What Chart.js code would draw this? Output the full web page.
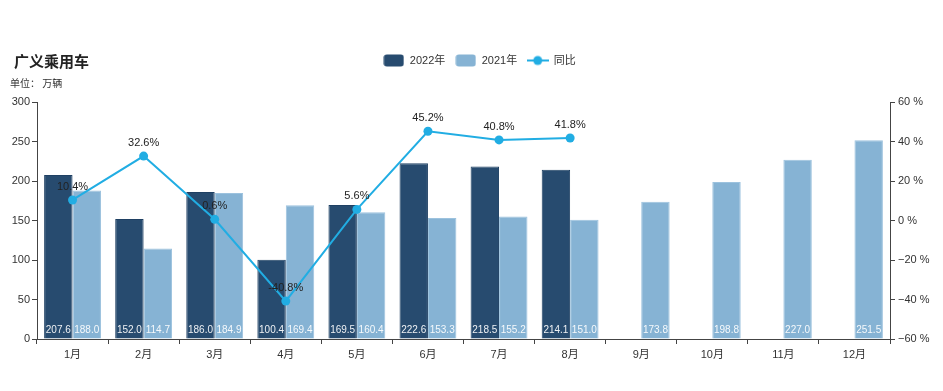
<!DOCTYPE html>
<html>
<head>
<meta charset="utf-8">
<script src="https://cdn.jsdelivr.net/npm/chart.js@4/dist/chart.umd.min.js"></script>
<style>
  html,body{margin:0;padding:0;background:#fff;}
  #wrap{position:relative;width:943px;height:391px;font-family:"Liberation Sans","Noto Sans CJK SC",sans-serif;}
  #title{position:absolute;left:14px;top:50px;font-size:15px;font-weight:bold;color:#222;font-family:"Noto Sans CJK SC","Liberation Sans",sans-serif;}
  #unit{position:absolute;left:10px;top:75px;font-size:10px;color:#333;font-family:"Noto Sans CJK SC","Liberation Sans",sans-serif;}
  canvas{position:absolute;left:0;top:0;}
</style>
</head>
<body>
<div id="wrap">
  <canvas id="c" width="943" height="391"></canvas>
  <div id="title">广义乘用车</div>
  <div id="unit">单位：&nbsp;万辆</div>
</div>
<script>
const categories = ["1月","2月","3月","4月","5月","6月","7月","8月","9月","10月","11月","12月"];
const sales2022 = [207.6,152.0,186.0,100.4,169.5,222.6,218.5,214.1,null,null,null,null];
const sales2021 = [188.0,114.7,184.9,169.4,160.4,153.3,155.2,151.0,173.8,198.8,227.0,251.5];
const yoy = [10.4,32.6,0.6,-40.8,5.6,45.2,40.8,41.8,null,null,null,null];
const leftTicks = [0,50,100,150,200,250,300];
const rightTicks = [-60,-40,-20,0,20,40,60];

const C_DARK = "#274B6F", C_LIGHT = "#86B3D4", C_LINE = "#21ADE3";
const FONT = '"Liberation Sans","Noto Sans CJK SC",sans-serif';

function boxIcon(color){
  const cv = document.createElement('canvas'); cv.width = 21; cv.height = 13;
  const x = cv.getContext('2d'); x.fillStyle = color;
  x.beginPath(); x.roundRect(0.5,0.5,20,12,3); x.fill();
  return cv;
}
function lineIcon(color){
  const cv = document.createElement('canvas'); cv.width = 22; cv.height = 12;
  const x = cv.getContext('2d'); x.strokeStyle = color; x.fillStyle = color; x.lineWidth = 2;
  x.beginPath(); x.moveTo(0,6); x.lineTo(22,6); x.stroke();
  x.beginPath(); x.arc(11,6,4.5,0,Math.PI*2); x.fill();
  return cv;
}
const icons = [boxIcon(C_DARK), boxIcon(C_LIGHT), lineIcon(C_LINE)];

const legendSpace = {
  id:'legendSpace',
  beforeInit(chart){
    const lg = chart.legend;
    const origFit = lg.fit;
    lg.fit = function(){ origFit.bind(lg)(); this.height += 26; };
    const origDraw = lg.draw;
    lg.draw = function(){
      const ctx = chart.ctx; ctx.save(); ctx.translate(8,0);
      origDraw.bind(lg)(); ctx.restore();
    };
  }
};

const valueLabels = {
  id:'valueLabels',
  afterDatasetsDraw(chart){
    const ctx = chart.ctx, area = chart.chartArea;
    ctx.save();
    ctx.textAlign = 'center'; ctx.textBaseline = 'middle';
    [0,1].forEach(di=>{
      const meta = chart.getDatasetMeta(di);
      if (meta.hidden) return;
      const data = chart.data.datasets[di].data;
      ctx.font = '10px ' + FONT; ctx.fillStyle = 'rgba(255,255,255,0.92)';
      meta.data.forEach((el,i)=>{
        if (data[i] === null) return;
        ctx.fillText(data[i].toFixed(1), el.x, area.bottom - 9);
      });
    });
    const lm = chart.getDatasetMeta(2);
    if (!lm.hidden){
      const data = chart.data.datasets[2].data;
      ctx.font = '11px ' + FONT; ctx.fillStyle = '#222';
      lm.data.forEach((el,i)=>{
        if (data[i] === null) return;
        ctx.fillText(data[i].toFixed(1) + '%', el.x, el.y - 13);
      });
    }
    ctx.restore();
  }
};

new Chart(document.getElementById('c'), {
  type:'bar',
  data:{
    labels: categories,
    datasets:[
      {label:'2022年', data:sales2022, backgroundColor:C_DARK, borderColor:'#1f4063', borderWidth:1, yAxisID:'y', order:1, barPercentage:1, categoryPercentage:0.8},
      {label:'2021年', data:sales2021, backgroundColor:C_LIGHT, borderColor:'#9cc2de', borderWidth:1, yAxisID:'y', order:1, barPercentage:1, categoryPercentage:0.8},
      {label:'同比', type:'line', data:yoy, borderColor:C_LINE, backgroundColor:C_LINE, borderWidth:2, pointRadius:4.5, pointHoverRadius:5, pointBackgroundColor:C_LINE, pointBorderWidth:0, yAxisID:'y1', order:0, tension:0, spanGaps:false}
    ]
  },
  options:{
    responsive:false,
    animation:false,
    layout:{padding:{top:45,left:0,right:0,bottom:0}},
    plugins:{
      tooltip:{enabled:true},
      legend:{
        position:'top',
        labels:{
          usePointStyle:true, pointStyleWidth:21, padding:10,
          color:'#333', font:{size:11, family:FONT},
          generateLabels(chart){
            return [0,1,2].map(i=>({
              text: chart.data.datasets[i].label,
              datasetIndex:i,
              hidden: !chart.isDatasetVisible(i),
              pointStyle: icons[i],
              fillStyle: chart.data.datasets[i].backgroundColor,
              strokeStyle: chart.data.datasets[i].backgroundColor,
              lineWidth:0,
              fontColor:'#333'
            }));
          }
        }
      }
    },
    scales:{
      x:{
        grid:{display:true, drawOnChartArea:false, drawTicks:true, tickLength:5, color:'#444', offset:true},
        border:{display:true, color:'#444', width:1},
        ticks:{color:'#333', font:{size:11, family:FONT}, padding:4, maxRotation:0},
        afterFit(s){ s.height = 52; }
      },
      y:{
        position:'left', min:0, max:300,
        afterBuildTicks(s){ s.ticks = leftTicks.map(v=>({value:v})); },
        grid:{display:true, drawOnChartArea:false, drawTicks:true, tickLength:5, color:'#444'},
        border:{display:true, color:'#444', width:1},
        ticks:{color:'#333', font:{size:11, family:FONT}, padding:2},
        afterFit(s){ s.width = 37; }
      },
      y1:{
        position:'right', min:-60, max:60,
        afterBuildTicks(s){ s.ticks = rightTicks.map(v=>({value:v})); },
        grid:{display:true, drawOnChartArea:false, drawTicks:true, tickLength:5, color:'#444'},
        border:{display:true, color:'#444', width:1},
        ticks:{color:'#333', font:{size:11, family:FONT}, padding:3, callback:v=>(v<0?'\u2212'+Math.abs(v):v)+' %'},
        afterFit(s){ s.width = 53; }
      }
    }
  },
  plugins:[legendSpace, valueLabels]
});
</script>
</body>
</html>
